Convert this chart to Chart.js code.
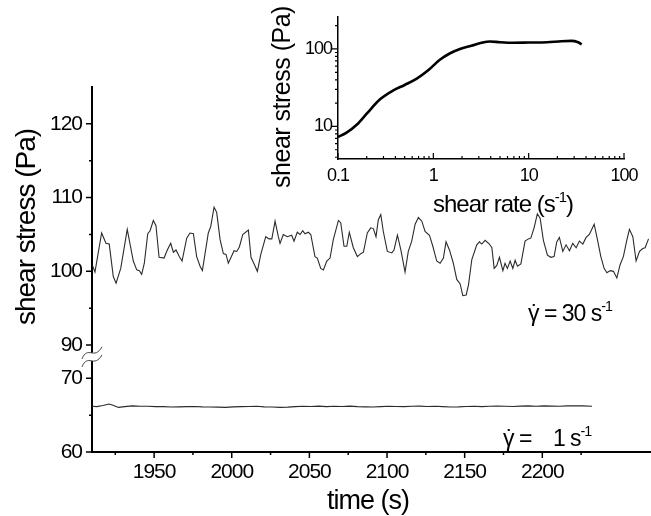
<!DOCTYPE html>
<html>
<head>
<meta charset="utf-8">
<script src="https://cdn.jsdelivr.net/npm/chart.js@4.4.1/dist/chart.umd.min.js"></script>
<style>
  body { margin: 0; background: #fff; }
  #wrap { position: relative; width: 651px; height: 516px; }
  #mainChart { position: absolute; left: 0; top: 0; }
  #insetChart { position: absolute; left: 270px; top: 0; }
</style>
</head>
<body>
<div id="wrap">
  <canvas id="mainChart" width="651" height="516"></canvas>
  <canvas id="insetChart" width="381" height="222"></canvas>
</div>
<script>
// main plot, shear rate 30 s^-1 (upper part of the broken axis)
const timeFast = [
  1910.5, 1911.9, 1916.2, 1919.0, 1921.1, 1923.7, 1925.5, 1928.5, 1932.7, 1936.6,
  1938.8, 1940.5, 1942.0, 1943.7, 1945.9, 1947.4, 1949.5, 1951.2, 1953.2, 1956.4,
  1958.5, 1960.7, 1962.4, 1964.1, 1966.2, 1968.0, 1971.0, 1973.1, 1975.3, 1977.4,
  1979.6, 1981.1, 1984.9, 1986.5, 1988.6, 1990.3, 1992.5, 1994.6, 1996.3, 1997.8,
  2001.5, 2003.2, 2004.9, 2007.1, 2010.7, 2012.4, 2014.4, 2016.5, 2018.7, 2021.9,
  2024.0, 2025.8, 2027.9, 2030.0, 2031.1, 2033.2, 2035.8, 2038.6, 2040.1, 2042.2,
  2044.0, 2045.7, 2047.2, 2049.3, 2050.9, 2053.6, 2055.1, 2057.3, 2059.0, 2061.2,
  2063.3, 2065.4, 2068.7, 2070.2, 2072.3, 2074.1, 2075.7, 2078.3, 2080.9, 2083.1,
  2084.8, 2087.3, 2089.5, 2091.2, 2092.9, 2094.4, 2096.0, 2097.6, 2100.2, 2103.1,
  2104.5, 2106.7, 2108.9, 2111.6, 2113.7, 2115.9, 2118.1, 2120.2, 2122.4, 2124.5,
  2127.3, 2129.5, 2132.0, 2134.2, 2136.3, 2138.0, 2140.2, 2142.7, 2144.9, 2147.1,
  2148.8, 2151.0, 2152.5, 2154.6, 2157.8, 2159.5, 2161.0, 2163.2, 2165.9, 2167.5,
  2169.0, 2170.7, 2172.4, 2174.6, 2176.0, 2177.5, 2179.3, 2181.0, 2182.5, 2184.0,
  2186.2, 2188.9, 2191.0, 2192.6, 2194.7, 2196.8, 2198.6, 2200.7, 2203.3, 2205.5,
  2207.6, 2209.3, 2211.0, 2213.2, 2215.3, 2217.5, 2219.6, 2221.8, 2223.9, 2226.1,
  2228.2, 2230.3, 2233.4, 2235.5, 2237.7, 2239.8, 2241.6, 2243.7, 2245.8, 2248.0,
  2250.1, 2252.2, 2254.4, 2256.1, 2258.3, 2260.4, 2262.6, 2264.7, 2266.2, 2268.4
];
const stressFast = [
  100.7, 99.9, 105.2, 103.8, 103.7, 99.3, 98.4, 100.4, 105.7, 101.4,
  100.2, 100.1, 99.6, 101.1, 105.1, 105.5, 106.9, 106.2, 101.9, 101.8,
  102.9, 103.8, 102.6, 102.9, 102.0, 101.4, 104.5, 105.2, 105.1, 102.0,
  100.7, 100.1, 105.2, 106.1, 108.7, 108.0, 104.3, 102.4, 102.3, 101.1,
  102.8, 102.7, 103.3, 105.0, 105.6, 101.9, 101.0, 100.0, 102.3, 104.7,
  104.4, 104.4, 106.8, 104.7, 103.8, 105.0, 104.7, 104.9, 104.1, 105.3,
  105.0, 105.5, 105.1, 105.3, 105.0, 102.0, 101.8, 100.4, 100.2, 101.4,
  101.8, 104.3, 106.9, 106.6, 103.4, 103.4, 105.3, 103.2, 102.0, 102.4,
  102.6, 105.2, 105.9, 105.8, 104.7, 107.0, 107.7, 105.4, 102.7, 102.5,
  102.9, 104.9, 102.9, 99.9, 102.7, 104.1, 106.4, 107.3, 106.8, 105.4,
  104.9, 103.4, 101.4, 101.1, 101.8, 104.0, 102.9, 101.1, 98.9, 98.3,
  96.7, 96.8, 98.2, 101.6, 103.6, 104.0, 103.7, 104.2, 103.7, 103.2,
  100.4, 100.8, 101.9, 100.1, 101.1, 100.4, 101.4, 100.4, 101.5, 100.7,
  101.0, 104.1, 104.4, 104.5, 105.9, 107.8, 107.2, 104.2, 102.2, 101.9,
  102.0, 104.0, 104.6, 102.7, 103.6, 102.8, 103.8, 103.2, 104.1, 103.7,
  104.6, 105.0, 106.4, 104.3, 102.0, 100.4, 99.8, 100.1, 100.0, 99.1,
  100.9, 102.0, 104.2, 105.7, 104.7, 101.4, 102.7, 103.1, 103.2, 104.4
];

// main plot, shear rate 1 s^-1 (lower part of the broken axis)
const timeSlow = [
  1910, 1913, 1917, 1921, 1924, 1927, 1931, 1936, 1941, 1946,
  1951, 1956, 1961, 1966, 1971, 1976, 1981, 1986, 1991, 1996,
  2001, 2006, 2011, 2016, 2021, 2026, 2031, 2036, 2041, 2046,
  2051, 2056, 2061, 2066, 2071, 2076, 2081, 2086, 2091, 2096,
  2101, 2106, 2111, 2116, 2121, 2126, 2131, 2136, 2141, 2146,
  2151, 2156, 2161, 2166, 2171, 2176, 2181, 2186, 2191, 2196,
  2201, 2206, 2211, 2216, 2221, 2226, 2232
];
const stressSlow = [
  66.2, 66.15, 66.3, 66.5, 66.3, 66.05, 66.15, 66.25, 66.2, 66.2,
  66.15, 66.15, 66.1, 66.12, 66.15, 66.18, 66.12, 66.1, 66.08, 66.05,
  66.12, 66.15, 66.18, 66.2, 66.12, 66.1, 66.05, 66.08, 66.15, 66.2,
  66.18, 66.22, 66.15, 66.2, 66.18, 66.22, 66.15, 66.12, 66.1, 66.15,
  66.2, 66.18, 66.15, 66.2, 66.22, 66.18, 66.2, 66.15, 66.1, 66.12,
  66.18, 66.2, 66.15, 66.2, 66.22, 66.2, 66.18, 66.22, 66.25, 66.2,
  66.25, 66.22, 66.2, 66.25, 66.28, 66.25, 66.2
];

// inset: flow curve
const shearRate = [0.1, 0.123, 0.157, 0.2, 0.276, 0.38, 0.5, 0.67, 0.89, 1.18, 1.5, 1.9, 2.5, 3.2, 3.9, 5, 7, 10, 15.6, 22, 28, 33, 36];
const flowStress = [7.3, 8.3, 10.5, 14.6, 22.4, 29.2, 34.3, 41.4, 53.5, 73, 88, 100, 110, 120, 125, 122, 120, 121, 122, 126, 127, 122, 115];

// tick labels
const xTickLabels = [1950, 2000, 2050, 2100, 2150, 2200];
const xMinorTicks = [1925, 1975, 2025, 2075, 2125, 2175, 2225];
const yTopLabels = [90, 100, 110, 120];
const yTopMinor = [95, 105, 115];
const yBotLabels = [60, 70];
const yBotMinor = [65];
const insetXLabels = [0.1, 1, 10, 100];
const insetYLabels = [10, 100];

const fontFamily = "'Liberation Sans', Arial, sans-serif";

// text with superscripts, and a dot over the gamma
function drawRich(ctx, parts, x, y, size) {
  let cx = x;
  for (const p of parts) {
    const s = p.sup ? size * 0.62 : size;
    ctx.font = s + 'px ' + fontFamily;
    const dy = p.sup ? -size * 0.42 : 0;
    ctx.fillText(p.t, cx, y + dy);
    const w = ctx.measureText(p.t).width;
    if (p.dot) {
      const dw = ctx.measureText('˙').width;
      ctx.fillText('˙', cx + w / 2 - dw / 2 + 1, y);
    }
    cx += w;
  }
}

function logMinor(min, max) {
  const out = [];
  for (let d = 1e-3; d < 1e4; d *= 10) {
    for (let k = 2; k <= 9; k++) {
      const v = +(k * d).toPrecision(3);
      if (v >= min && v <= max) out.push(v);
    }
  }
  return out;
}

const tightText = {
  id: 'tightText',
  beforeDraw(chart) { chart.ctx.letterSpacing = '-1px'; }
};

// ---------- main chart ----------
const mainDecor = {
  id: 'mainDecor',
  afterDraw(chart) {
    const ctx = chart.ctx;
    const x = chart.scales.x, yT = chart.scales.yTop, yB = chart.scales.yBot;
    const a = chart.chartArea;
    ctx.save();
    ctx.strokeStyle = '#000';
    ctx.lineWidth = 1.5;
    ctx.beginPath();
    xTickLabels.forEach(v => { const p = x.getPixelForValue(v); ctx.moveTo(p, a.bottom); ctx.lineTo(p, a.bottom + 6); });
    xMinorTicks.forEach(v => { const p = x.getPixelForValue(v); ctx.moveTo(p, a.bottom); ctx.lineTo(p, a.bottom + 3); });
    yTopLabels.forEach(v => { const p = yT.getPixelForValue(v); ctx.moveTo(a.left, p); ctx.lineTo(a.left - 6, p); });
    yTopMinor.forEach(v => { const p = yT.getPixelForValue(v); ctx.moveTo(a.left, p); ctx.lineTo(a.left - 3, p); });
    yBotLabels.forEach(v => { const p = yB.getPixelForValue(v); ctx.moveTo(a.left, p); ctx.lineTo(a.left - 6, p); });
    yBotMinor.forEach(v => { const p = yB.getPixelForValue(v); ctx.moveTo(a.left, p); ctx.lineTo(a.left - 3, p); });
    ctx.stroke();

    // axis break
    const by = yT.bottom - 3, bx = a.left;
    ctx.fillStyle = '#fff';
    ctx.beginPath();
    ctx.moveTo(bx - 10, by + 2);
    ctx.bezierCurveTo(bx - 4, by - 12, bx + 2, by + 4, bx + 10, by - 10);
    ctx.lineTo(bx + 10, by - 2);
    ctx.bezierCurveTo(bx + 2, by + 12, bx - 4, by - 4, bx - 10, by + 10);
    ctx.closePath();
    ctx.fill();
    ctx.strokeStyle = '#444';
    ctx.lineWidth = 1;
    ctx.beginPath();
    ctx.moveTo(bx - 10, by + 2);
    ctx.bezierCurveTo(bx - 4, by - 12, bx + 2, by + 4, bx + 10, by - 10);
    ctx.moveTo(bx + 10, by - 2);
    ctx.bezierCurveTo(bx + 2, by + 12, bx - 4, by - 4, bx - 10, by + 10);
    ctx.stroke();

    // titles
    ctx.letterSpacing = '-1px';
    ctx.fillStyle = '#000';
    ctx.textAlign = 'center';
    ctx.textBaseline = 'middle';
    ctx.font = '27px ' + fontFamily;
    ctx.fillText('time (s)', 368, 502);
    ctx.save();
    ctx.translate(27, 227);
    ctx.rotate(-Math.PI / 2);
    ctx.font = '28px ' + fontFamily;
    ctx.fillText('shear stress (Pa)', 0, 0);
    ctx.restore();

    // annotations
    ctx.textAlign = 'left';
    ctx.textBaseline = 'alphabetic';
    drawRich(ctx, [{ t: 'γ', dot: true }, { t: ' = 30 s' }, { t: '-1', sup: true }], 528, 321, 23);
    drawRich(ctx, [{ t: 'γ', dot: true }, { t: ' =    1 s' }, { t: '-1', sup: true }], 503, 446, 23);
    ctx.restore();
  }
};

const tickFont = { family: fontFamily, size: 21 };

new Chart(document.getElementById('mainChart'), {
  type: 'line',
  data: {
    datasets: [
      {
        data: timeFast.map((t, i) => ({ x: t, y: stressFast[i] })),
        xAxisID: 'x', yAxisID: 'yTop',
        borderColor: '#2b2b2b', borderWidth: 1.1, pointRadius: 0, tension: 0
      },
      {
        data: timeSlow.map((t, i) => ({ x: t, y: stressSlow[i] })),
        xAxisID: 'x', yAxisID: 'yBot',
        borderColor: '#2b2b2b', borderWidth: 1.1, pointRadius: 0, tension: 0
      }
    ]
  },
  options: {
    responsive: false,
    animation: false,
    devicePixelRatio: 1,
    layout: { padding: { top: 87, right: 0, left: 0, bottom: 0 } },
    plugins: { legend: { display: false }, tooltip: { enabled: false } },
    scales: {
      x: {
        type: 'linear', position: 'bottom', min: 1910, max: 2270,
        grid: { display: false, drawTicks: false },
        border: { display: true, color: '#000', width: 2 },
        ticks: { color: '#000', font: tickFont, padding: 8, maxRotation: 0, callback: v => String(v) },
        afterBuildTicks: s => { s.ticks = xTickLabels.map(v => ({ value: v })); },
        afterFit: s => { s.height = 64; }
      },
      yBot: {
        type: 'linear', position: 'left', stack: 'main', stackWeight: 12.5,
        min: 60, max: 72.5,
        grid: { display: false, drawTicks: false },
        border: { display: true, color: '#000', width: 2 },
        ticks: { color: '#000', font: tickFont, padding: 10, callback: v => String(v) },
        afterBuildTicks: s => { s.ticks = yBotLabels.map(v => ({ value: v })); },
        afterFit: s => { s.width = 92; }
      },
      yTop: {
        type: 'linear', position: 'left', stack: 'main', stackWeight: 37,
        min: 88, max: 125,
        grid: { display: false, drawTicks: false },
        border: { display: true, color: '#000', width: 2 },
        ticks: { color: '#000', font: tickFont, padding: 10, callback: v => String(v) },
        afterBuildTicks: s => { s.ticks = yTopLabels.map(v => ({ value: v })); },
        afterFit: s => { s.width = 92; }
      }
    }
  },
  plugins: [tightText, mainDecor]
});

// ---------- inset ----------
const insetDecor = {
  id: 'insetDecor',
  afterDraw(chart) {
    const ctx = chart.ctx;
    const x = chart.scales.x, y = chart.scales.y;
    const a = chart.chartArea;
    ctx.save();
    ctx.strokeStyle = '#000';
    ctx.lineWidth = 1.2;
    ctx.beginPath();
    insetXLabels.forEach(v => { const p = x.getPixelForValue(v); ctx.moveTo(p, a.bottom); ctx.lineTo(p, a.bottom - 6); });
    logMinor(0.1, 100).forEach(v => { const p = x.getPixelForValue(v); ctx.moveTo(p, a.bottom); ctx.lineTo(p, a.bottom - 3); });
    insetYLabels.forEach(v => { const p = y.getPixelForValue(v); ctx.moveTo(a.left, p); ctx.lineTo(a.left - 6, p); });
    logMinor(y.min, y.max).forEach(v => { const p = y.getPixelForValue(v); ctx.moveTo(a.left, p); ctx.lineTo(a.left - 3, p); });
    ctx.stroke();

    ctx.letterSpacing = '-1px';
    ctx.fillStyle = '#000';
    ctx.textAlign = 'left';
    ctx.textBaseline = 'alphabetic';
    drawRich(ctx, [{ t: 'shear rate (s' }, { t: '-1', sup: true }, { t: ')' }], 163, 212, 24);
    ctx.save();
    ctx.translate(13, 97);
    ctx.rotate(-Math.PI / 2);
    ctx.letterSpacing = '-0.5px';
    ctx.textAlign = 'center';
    ctx.textBaseline = 'middle';
    ctx.font = '25px ' + fontFamily;
    ctx.fillText('shear stress (Pa)', 0, 0);
    ctx.restore();
    ctx.restore();
  }
};

const insetFont = { family: fontFamily, size: 18 };

new Chart(document.getElementById('insetChart'), {
  type: 'line',
  data: {
    datasets: [{
      data: shearRate.map((r, i) => ({ x: r, y: flowStress[i] })),
      borderColor: '#000', borderWidth: 2.6, pointRadius: 0,
      tension: 0.4, cubicInterpolationMode: 'monotone'
    }]
  },
  options: {
    responsive: false,
    animation: false,
    devicePixelRatio: 1,
    layout: { padding: { top: 10, right: 27, left: 0, bottom: 0 } },
    plugins: { legend: { display: false }, tooltip: { enabled: false } },
    scales: {
      x: {
        type: 'logarithmic', position: 'bottom', min: 0.1, max: 100,
        grid: { display: false, drawTicks: false },
        border: { display: true, color: '#000', width: 1.5 },
        ticks: { color: '#000', font: insetFont, padding: 6, maxRotation: 0, callback: v => String(v) },
        afterBuildTicks: s => { s.ticks = insetXLabels.map(v => ({ value: v })); },
        afterFit: s => { s.height = 63; }
      },
      y: {
        type: 'logarithmic', position: 'left', min: 3.8, max: 260,
        grid: { display: false, drawTicks: false },
        border: { display: true, color: '#000', width: 1.5 },
        ticks: { color: '#000', font: insetFont, padding: 6, callback: v => String(v) },
        afterBuildTicks: s => { s.ticks = insetYLabels.map(v => ({ value: v })); },
        afterFit: s => { s.width = 68; }
      }
    }
  },
  plugins: [tightText, insetDecor]
});
</script>
</body>
</html>
